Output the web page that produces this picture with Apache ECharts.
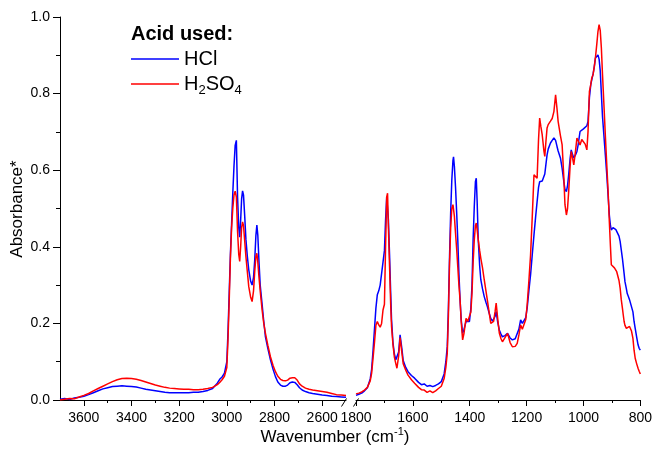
<!DOCTYPE html>
<html>
<head>
<meta charset="utf-8">
<title>IR spectra</title>
<script src="https://cdn.jsdelivr.net/npm/echarts@6.0.0/dist/echarts.min.js"></script>
<style>
    html, body { margin: 0; padding: 0; background: #fff; }
    #chart { width: 655px; height: 454px; }
</style>
</head>
<body>
<div id="chart"></div>
<script>
// ===== data: high wavenumber part (3700 - 2500 cm-1) =====
var wnHigh = [3700,3680,3660,3640,3620,3600,3580,3560,3540,3520,
    3500,3480,3460,3440,3420,3400,3380,3360,3340,3320,
    3300,3280,3260,3240,3220,3200,3180,3160,3140,3120,
    3100,3080,3060,3040,3030,3020,3010,3000,2995,2990,
    2985,2980,2975,2970,2965,2960,2955,2950,2946,2942,
    2938,2934,2930,2925,2920,2914,2908,2900,2894,2888,
    2883,2878,2874,2870,2865,2860,2852,2845,2838,2828,
    2817,2806,2796,2786,2775,2765,2754,2745,2735,2725,
    2715,2705,2695,2684,2670,2655,2640,2620,2600,2580,
    2560,2540,2520,2500];
var hclHigh = [0.002,0.004,0.001,0.005,0.007,0.010,0.014,0.019,0.024,0.029,
    0.032,0.035,0.036,0.037,0.036,0.035,0.034,0.031,0.028,0.026,
    0.024,0.022,0.020,0.019,0.019,0.019,0.019,0.019,0.020,0.020,
    0.022,0.025,0.030,0.044,0.054,0.060,0.070,0.100,0.180,0.280,
    0.380,0.460,0.540,0.610,0.665,0.678,0.530,0.450,0.425,0.470,
    0.525,0.546,0.535,0.480,0.420,0.375,0.340,0.310,0.300,0.320,
    0.365,0.430,0.457,0.430,0.360,0.300,0.250,0.205,0.165,0.135,
    0.105,0.080,0.061,0.047,0.039,0.036,0.036,0.039,0.045,0.047,
    0.046,0.040,0.032,0.026,0.022,0.019,0.017,0.015,0.013,0.012,
    0.010,0.009,0.008,0.007];
var h2so4High = [0.000,0.002,0.004,0.003,0.008,0.012,0.017,0.024,0.030,0.036,
    0.042,0.048,0.053,0.056,0.057,0.056,0.054,0.051,0.047,0.043,
    0.039,0.036,0.033,0.031,0.030,0.029,0.028,0.028,0.027,0.027,
    0.028,0.030,0.033,0.040,0.046,0.053,0.062,0.085,0.160,0.260,
    0.370,0.450,0.500,0.535,0.545,0.530,0.440,0.380,0.362,0.400,
    0.450,0.465,0.455,0.415,0.375,0.335,0.296,0.268,0.257,0.285,
    0.335,0.375,0.383,0.360,0.320,0.285,0.235,0.200,0.174,0.143,
    0.113,0.090,0.074,0.062,0.054,0.051,0.050,0.052,0.057,0.058,
    0.058,0.052,0.042,0.036,0.031,0.028,0.026,0.024,0.022,0.020,
    0.017,0.014,0.013,0.012];

// ===== data: fingerprint part (1800 - 800 cm-1) =====
var wnLow = [1800,1790,1780,1770,1760,1750,1745,1740,1735,1730,
    1725,1720,1715,1710,1705,1700,1696,1692,1689,1686,
    1682,1678,1675,1670,1665,1660,1656,1650,1645,1642,
    1638,1634,1625,1617,1605,1594,1580,1570,1560,1550,
    1540,1530,1520,1510,1500,1490,1484,1479,1475,1471,
    1467,1463,1459,1457,1454,1450,1446,1442,1438,1434,
    1430,1425,1420,1413,1407,1401,1396,1392,1388,1384,
    1380,1377,1374,1370,1365,1361,1355,1349,1343,1338,
    1332,1326,1320,1316,1311,1307,1302,1296,1290,1285,
    1276,1267,1258,1250,1240,1233,1227,1221,1215,1209,
    1203,1198,1192,1186,1180,1174,1168,1163,1158,1154,
    1150,1145,1139,1136,1132,1128,1124,1116,1110,1104,
    1098,1093,1089,1081,1075,1069,1065,1060,1056,1052,
    1047,1043,1038,1034,1028,1023,1019,1012,1006,1000,
    994,988,984,979,974,971,966,962,958,953,
    949,945,941,937,933,928,923,918,913,909,
    905,902,896,891,886,883,879,875,871,867,
    863,860,857,854,849,846,842,838,835,831,
    826,822,818,813,808,804,800];
var hclLow = [0.012,0.015,0.018,0.024,0.032,0.055,0.080,0.130,0.185,0.240,
    0.275,0.285,0.300,0.330,0.360,0.390,0.470,0.530,0.535,0.470,
    0.380,0.280,0.210,0.150,0.120,0.105,0.100,0.125,0.170,0.168,
    0.130,0.103,0.085,0.074,0.064,0.057,0.046,0.040,0.042,0.036,
    0.038,0.035,0.038,0.042,0.048,0.068,0.100,0.140,0.240,0.374,
    0.490,0.575,0.625,0.635,0.610,0.557,0.490,0.418,0.330,0.262,
    0.210,0.174,0.185,0.205,0.208,0.205,0.240,0.300,0.420,0.505,
    0.570,0.579,0.520,0.418,0.350,0.314,0.290,0.270,0.255,0.244,
    0.228,0.213,0.206,0.205,0.218,0.231,0.205,0.183,0.172,0.165,
    0.168,0.174,0.162,0.157,0.160,0.165,0.185,0.209,0.200,0.196,
    0.215,0.240,0.285,0.327,0.380,0.431,0.480,0.518,0.555,0.570,
    0.572,0.572,0.575,0.590,0.615,0.640,0.655,0.671,0.678,0.684,
    0.678,0.662,0.650,0.632,0.605,0.570,0.550,0.544,0.560,0.588,
    0.630,0.653,0.640,0.632,0.640,0.649,0.665,0.701,0.705,0.708,
    0.710,0.716,0.727,0.790,0.825,0.835,0.852,0.870,0.893,0.898,
    0.901,0.890,0.860,0.800,0.740,0.690,0.640,0.588,0.530,0.483,
    0.455,0.444,0.450,0.453,0.445,0.442,0.440,0.428,0.414,0.392,
    0.370,0.350,0.330,0.309,0.290,0.278,0.270,0.262,0.257,0.257,
    0.230,0.205,0.187,0.165,0.144,0.135,0.130];
var h2so4Low = [0.016,0.018,0.021,0.026,0.033,0.050,0.070,0.110,0.150,0.195,
    0.205,0.196,0.190,0.200,0.235,0.250,0.400,0.530,0.540,0.450,
    0.350,0.250,0.192,0.145,0.112,0.095,0.083,0.115,0.163,0.160,
    0.120,0.095,0.078,0.065,0.053,0.044,0.033,0.027,0.026,0.020,
    0.024,0.019,0.024,0.030,0.036,0.056,0.085,0.122,0.220,0.357,
    0.450,0.500,0.510,0.505,0.480,0.436,0.395,0.348,0.300,0.261,
    0.205,0.157,0.175,0.213,0.205,0.200,0.230,0.280,0.360,0.418,
    0.455,0.462,0.445,0.418,0.390,0.370,0.345,0.314,0.285,0.261,
    0.230,0.200,0.202,0.205,0.230,0.253,0.215,0.175,0.160,0.152,
    0.163,0.174,0.150,0.139,0.140,0.148,0.170,0.196,0.185,0.183,
    0.210,0.248,0.310,0.379,0.480,0.588,0.590,0.579,0.680,0.736,
    0.715,0.692,0.650,0.636,0.675,0.710,0.719,0.728,0.735,0.753,
    0.797,0.760,0.727,0.690,0.666,0.580,0.510,0.483,0.500,0.544,
    0.610,0.649,0.630,0.614,0.650,0.684,0.684,0.666,0.680,0.684,
    0.668,0.653,0.700,0.806,0.825,0.840,0.850,0.870,0.893,0.930,
    0.962,0.980,0.965,0.919,0.850,0.771,0.690,0.614,0.540,0.466,
    0.400,0.353,0.348,0.345,0.340,0.335,0.330,0.312,0.292,0.262,
    0.240,0.222,0.205,0.195,0.187,0.188,0.190,0.192,0.191,0.180,
    0.161,0.130,0.109,0.095,0.083,0.075,0.068];

// tick labels
var highMajorTicks = [2600, 2800, 3000, 3200, 3400, 3600];
var highMinorTicks = [2700, 2900, 3100, 3300, 3500];

var FONT = '"Liberation Sans", Arial, Helvetica, sans-serif';
var BLUE = '#0000ff';
var RED = '#ff0000';

function pairs(wn, vals) {
    var out = [];
    for (var i = 0; i < wn.length; i++) {
        out.push([wn[i], vals[i]]);
    }
    return out;
}

function lineSeries(name, color, xIdx, yIdx, data) {
    return {
        name: name,
        type: 'line',
        xAxisIndex: xIdx,
        yAxisIndex: yIdx,
        data: data,
        symbol: 'none',
        showSymbol: false,
        smooth: false,
        color: color,
        lineStyle: { color: color, width: 1.5 },
        z: name === 'HCl' ? 2 : 3
    };
}

// plain numbers, no thousands separator
function plainLabel(v) {
    return String(v);
}

var axisLineStyle = { show: true, lineStyle: { color: '#000', width: 1 } };
var labelStyle = { color: '#000', fontSize: 14, fontFamily: FONT };

var myChart = echarts.init(document.getElementById('chart'), null, { renderer: 'canvas' });

var option = {
    animation: false,
    textStyle: { fontFamily: FONT },
    grid: [
        { left: 60, top: 17, width: 286, height: 383 },
        { left: 356, top: 17, width: 286, height: 383 }
    ],
    legend: {
        orient: 'vertical',
        left: 126,
        top: 44,
        padding: 5,
        icon: 'rect',
        itemWidth: 48,
        itemHeight: 1.5,
        itemGap: 5,
        data: ['HCl', 'H2SO4'],
        textStyle: {
            color: '#000',
            fontSize: 20,
            lineHeight: 20,
            fontFamily: FONT,
            rich: {
                n: { fontSize: 20, lineHeight: 20, fontFamily: FONT, color: '#000' },
                s: { fontSize: 13, lineHeight: 13, fontFamily: FONT, color: '#000', verticalAlign: 'bottom', padding: [0, 0, -3, 0] }
            }
        },
        formatter: function (name) {
            if (name === 'H2SO4') {
                return '{n|H}{s|2}{n|SO}{s|4}';
            }
            return name;
        }
    },
    xAxis: [
        {   // high wavenumber part
            type: 'value', gridIndex: 0, min: 2500, max: 3700, inverse: true,
            axisLine: axisLineStyle,
            axisTick: { show: true, length: 6, inside: false, customValues: highMajorTicks, lineStyle: { color: '#000' } },
            axisLabel: Object.assign({ margin: 11, customValues: highMajorTicks, formatter: plainLabel }, labelStyle),
            splitLine: { show: false }
        },
        {   // minor ticks of the high part
            type: 'value', gridIndex: 0, min: 2500, max: 3700, inverse: true, position: 'bottom',
            axisLine: { show: false },
            axisTick: { show: true, length: 3, customValues: highMinorTicks, lineStyle: { color: '#000' } },
            axisLabel: { show: false },
            splitLine: { show: false }
        },
        {   // fingerprint part
            type: 'value', gridIndex: 1, min: 800, max: 1800, interval: 200, inverse: true,
            axisLine: axisLineStyle,
            axisTick: { show: true, length: 6, lineStyle: { color: '#000' } },
            minorTick: { show: true, splitNumber: 2, length: 3, lineStyle: { color: '#000' } },
            axisLabel: Object.assign({ margin: 11, formatter: plainLabel }, labelStyle),
            splitLine: { show: false }
        }
    ],
    yAxis: [
        {
            type: 'value', gridIndex: 0, min: 0, max: 1, interval: 0.2,
            axisLine: axisLineStyle,
            axisTick: { show: true, length: 7, lineStyle: { color: '#000' } },
            minorTick: { show: true, splitNumber: 2, length: 4, lineStyle: { color: '#000' } },
            axisLabel: Object.assign({
                margin: 10,
                formatter: function (v) { return v.toFixed(1); }
            }, labelStyle),
            splitLine: { show: false }
        },
        {
            type: 'value', gridIndex: 1, min: 0, max: 1, interval: 0.2, show: false
        }
    ],
    graphic: [
        {
            type: 'text', x: 131, y: 34,
            style: { text: 'Acid used:', font: 'bold 20px ' + FONT, fill: '#000', align: 'left', verticalAlign: 'middle' }
        },
        {
            type: 'text', x: 335, y: 437,
            style: {
                text: '{a|Wavenumber (cm}{s|-1}{a|)}',
                align: 'center', verticalAlign: 'middle',
                rich: {
                    a: { fontSize: 17, lineHeight: 21, fontFamily: FONT, fill: '#000' },
                    s: { fontSize: 11, lineHeight: 11, fontFamily: FONT, fill: '#000', verticalAlign: 'top' }
                }
            }
        },
        {
            type: 'text', x: 17, y: 209, rotation: Math.PI / 2,
            style: { text: 'Absorbance*', font: '17px ' + FONT, fill: '#000', align: 'center', verticalAlign: 'middle' }
        },
        // axis break marks
        { type: 'line', shape: { x1: 341.5, y1: 406.5, x2: 346.5, y2: 398.5 }, style: { stroke: '#000', lineWidth: 1 } },
        { type: 'line', shape: { x1: 353.5, y1: 406.5, x2: 358.5, y2: 398.5 }, style: { stroke: '#000', lineWidth: 1 } }
    ],
    series: [
        lineSeries('HCl', BLUE, 0, 0, pairs(wnHigh, hclHigh)),
        lineSeries('HCl', BLUE, 2, 1, pairs(wnLow, hclLow)),
        lineSeries('H2SO4', RED, 0, 0, pairs(wnHigh, h2so4High)),
        lineSeries('H2SO4', RED, 2, 1, pairs(wnLow, h2so4Low))
    ]
};

myChart.setOption(option);
</script>
</body>
</html>
